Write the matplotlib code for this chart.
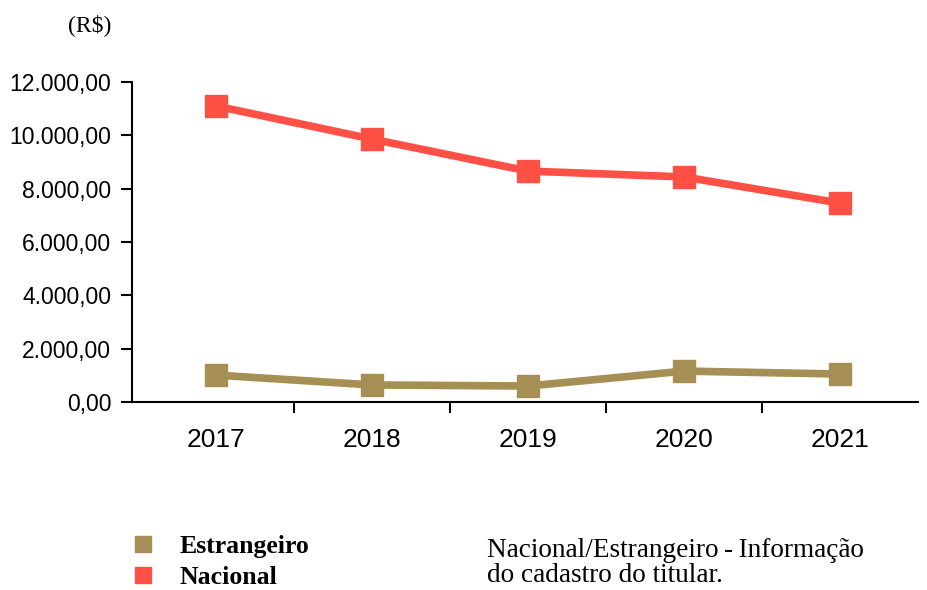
import matplotlib.pyplot as plt
from matplotlib.lines import Line2D
from matplotlib.ticker import FuncFormatter, FixedLocator

anos = ["2017", "2018", "2019", "2020", "2021"]
nacional = [11100, 9860, 8660, 8440, 7460]
estrangeiro = [1010, 640, 600, 1160, 1050]

cor_nac = "#FF5046"
cor_est = "#A68F55"

fig = plt.figure(figsize=(9.28, 5.90), dpi=100)
ax = fig.add_axes([0.1422, 0.3186, 0.847, 0.5424])

x = range(len(anos))
ax.plot(x, estrangeiro, color=cor_est, lw=5.5, marker="s", ms=16, solid_joinstyle="miter")
ax.plot(x, nacional, color=cor_nac, lw=5.5, marker="s", ms=16, solid_joinstyle="miter")

ax.set_xlim(-0.54, 4.5)
ax.set_ylim(0, 12000)
ax.set_yticks(range(0, 12001, 2000))

def fmt_br(v, pos):
    s = f"{v:,.2f}"
    return s.replace(",", "X").replace(".", ",").replace("X", ".")

ax.yaxis.set_major_formatter(FuncFormatter(fmt_br))
ax.set_xticks(list(x))
ax.set_xticklabels(anos)
ax.xaxis.set_minor_locator(FixedLocator([0.5, 1.5, 2.5, 3.5]))
ax.tick_params(axis="x", which="major", length=0, pad=19)
ax.tick_params(axis="x", which="minor", length=8, width=1.5, direction="out")
ax.tick_params(axis="y", length=8, width=1.5, direction="out", pad=7)
for lab in ax.get_xticklabels():
    lab.set_fontfamily("Liberation Sans")
    lab.set_fontsize(19)
for lab in ax.get_yticklabels():
    lab.set_fontfamily("Liberation Sans")
    lab.set_fontsize(16.5)

for s in ["top", "right"]:
    ax.spines[s].set_visible(False)
for s in ["left", "bottom"]:
    ax.spines[s].set_linewidth(1.5)

fig.text(0.073, 0.957, "(R$)", fontfamily="Liberation Serif", fontsize=17, va="center")

handles = [
    Line2D([], [], color=cor_est, marker="s", ls="none", ms=12),
    Line2D([], [], color=cor_nac, marker="s", ls="none", ms=12),
]
fig.legend(handles, ["Estrangeiro", "Nacional"], loc="upper left",
           bbox_to_anchor=(0.1406, 0.093), frameon=False, handlelength=1.0,
           handletextpad=0.9, labelspacing=0.3,
           prop={"family": "Liberation Serif", "weight": "bold", "size": 18.5},
           borderaxespad=0, borderpad=0)

fig.text(0.525, 0.004, "Nacional/Estrangeiro\u2009-\u2009Informação\ndo cadastro do titular.",
         fontfamily="Liberation Serif", fontsize=19.6, va="bottom", linespacing=1.0)

fig.savefig("out.png", dpi=100)
